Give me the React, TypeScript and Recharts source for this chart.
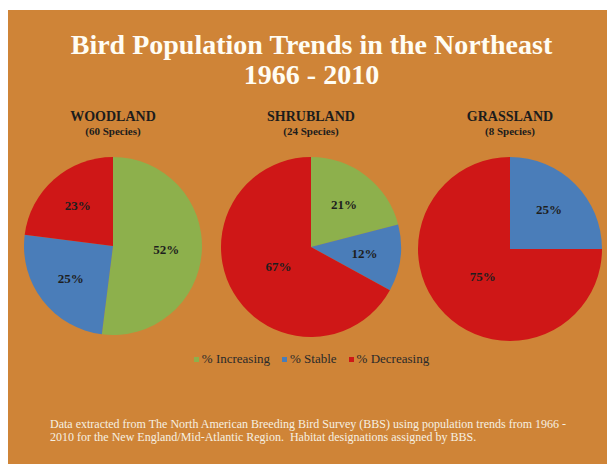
import React from 'react';
import { PieChart, Pie, Cell } from 'recharts';

const trendNames = ['% Increasing', '% Stable', '% Decreasing'];
const trendColors = ['#8DB04C', '#4A7DB9', '#CF1717'];

const habitats = ['WOODLAND', 'SHRUBLAND', 'GRASSLAND'];
const speciesCounts = ['(60 Species)', '(24 Species)', '(8 Species)'];

// percent of species per trend, same order as trendNames
const woodland = [52, 25, 23];
const shrubland = [21, 12, 67];
const grassland = [0, 25, 75];

const habitatValues = [woodland, shrubland, grassland];

const FONT = '"Liberation Serif", "Times New Roman", serif';
const RAD = Math.PI / 180;

// pie centres / radii inside the orange panel
const pies = [
  { x: 105, y: 236, r: 89 },
  { x: 303, y: 237, r: 90 },
  { x: 502, y: 239, r: 92 },
];

const renderLabel = ({ cx, cy, midAngle, outerRadius, value }: any) => {
  if (!value) return null;
  // big slices get their label pulled in toward the centre, like Excel does
  const r = outerRadius * (value > 60 ? 0.42 : 0.6);
  const x = cx + r * Math.cos(-midAngle * RAD);
  const y = cy + r * Math.sin(-midAngle * RAD);
  return (
    <text
      x={x}
      y={y}
      textAnchor="middle"
      dominantBaseline="central"
      fill="#1e1e1e"
      fontFamily={FONT}
      fontWeight="bold"
      fontSize={13}
    >
      {value}%
    </text>
  );
};

const App: React.FC = () => {
  return (
    <div
      style={{
        position: 'relative',
        width: 607,
        height: 454,
        marginTop: 2,
        background: '#CF8437',
        fontFamily: FONT,
        overflow: 'hidden',
      }}
    >
      <style>{'.recharts-pie-sectors{filter:drop-shadow(0 2px 1px rgba(60,20,0,0.45));}'}</style>

      {/* Title */}
      <div
        style={{
          position: 'absolute',
          top: 20,
          left: 0,
          width: 607,
          textAlign: 'center',
          color: '#FFFDF4',
          fontWeight: 'bold',
          fontSize: 28,
          lineHeight: '30px',
        }}
      >
        Bird Population Trends in the Northeast
        <br />
        1966 - 2010
      </div>

      {/* Habitat headers */}
      {habitats.map((h, i) => (
        <div
          key={h}
          style={{
            position: 'absolute',
            top: 100,
            left: pies[i].x - 100,
            width: 200,
            textAlign: 'center',
            color: '#1c1c1c',
            fontWeight: 'bold',
          }}
        >
          <div style={{ fontSize: 14, lineHeight: '14px' }}>{h}</div>
          <div style={{ fontSize: 11, lineHeight: '10px', marginTop: 2 }}>{speciesCounts[i]}</div>
        </div>
      ))}

      <div style={{ position: 'absolute', top: 0, left: 0 }}>
        <PieChart width={607} height={454} margin={{ top: 0, right: 0, bottom: 0, left: 0 }}>
          {habitatValues.map((vals, i) => (
            <Pie
              key={habitats[i]}
              data={vals.map((v, j) => ({ name: trendNames[j], value: v }))}
              dataKey="value"
              nameKey="name"
              cx={pies[i].x}
              cy={pies[i].y}
              outerRadius={pies[i].r}
              startAngle={90}
              endAngle={-270}
              stroke="none"
              label={renderLabel}
              labelLine={false}
              isAnimationActive={false}
            >
              {vals.map((_, j) => (
                <Cell key={j} fill={trendColors[j]} />
              ))}
            </Pie>
          ))}
        </PieChart>
      </div>

      {/* Legend */}
      <div
        style={{
          position: 'absolute',
          top: 341,
          left: 0,
          width: 607,
          display: 'flex',
          justifyContent: 'center',
          gap: 12,
          fontSize: 13,
          lineHeight: '16px',
          color: '#2a2a2a',
        }}
      >
        {trendNames.map((n, j) => (
          <div key={n} style={{ display: 'flex', alignItems: 'center', gap: 3 }}>
            <span style={{ width: 5, height: 5, background: trendColors[j], display: 'inline-block' }} />
            <span>{n}</span>
          </div>
        ))}
      </div>

      {/* Footnote */}
      <div
        style={{
          position: 'absolute',
          top: 408,
          left: 42,
          width: 560,
          fontSize: 12,
          lineHeight: '13px',
          color: '#F6F0E2',
          whiteSpace: 'nowrap',
        }}
      >
        Data extracted from The North American Breeding Bird Survey (BBS) using population trends from 1966 -
        <br />
        2010 for the New England/Mid-Atlantic Region.&nbsp; Habitat designations assigned by BBS.
      </div>
    </div>
  );
};

export default App;
